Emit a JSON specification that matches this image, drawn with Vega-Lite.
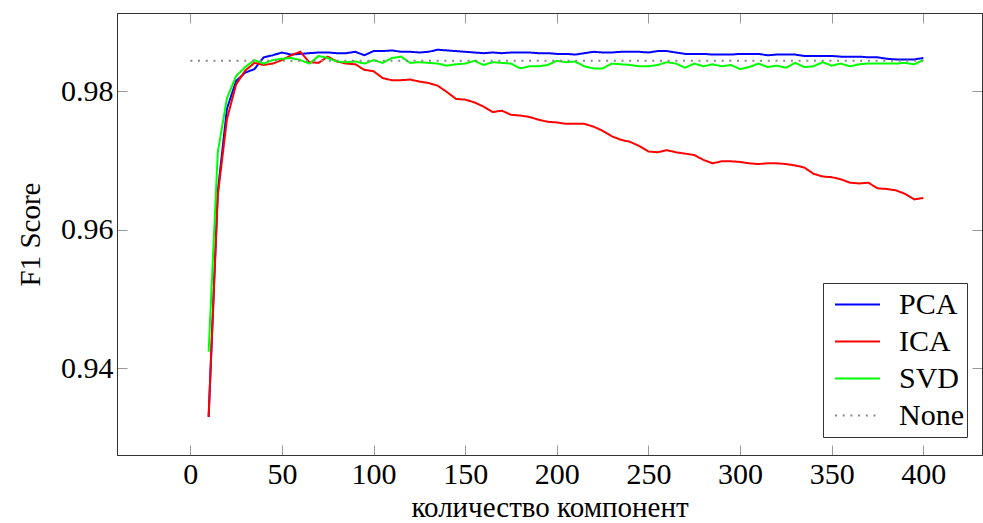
{
  "$schema": "https://vega.github.io/schema/vega-lite/v6.json",
  "autosize": {"type": "none"},
  "width": 865,
  "height": 442,
  "padding": {"left": 117, "top": 13, "right": 1, "bottom": 68},
  "background": "white",
  "config": {
    "view": {"stroke": "#333", "strokeWidth": 1},
    "font": "Liberation Serif",
    "axis": {"labelFont": "Liberation Serif", "titleFont": "Liberation Serif", "labelFontSize": 30, "titleFontSize": 29, "titleFontWeight": "normal", "labelColor": "black", "titleColor": "black", "grid": false, "domainColor": "#333", "tickColor": "#999", "tickSize": -10, "tickWidth": 1}
  },
  "datasets": {
    "scores": [
      {"x":10,"PCA":0.9330,"ICA":0.9330,"SVD":0.9424},
      {"x":15,"PCA":0.9655,"ICA":0.9650,"SVD":0.9712},
      {"x":20,"PCA":0.9775,"ICA":0.9760,"SVD":0.9790},
      {"x":25,"PCA":0.9815,"ICA":0.9810,"SVD":0.9822},
      {"x":30,"PCA":0.9827,"ICA":0.9830,"SVD":0.9835},
      {"x":35,"PCA":0.9832,"ICA":0.9841,"SVD":0.9845},
      {"x":40,"PCA":0.9849,"ICA":0.9838,"SVD":0.9840},
      {"x":45,"PCA":0.9852,"ICA":0.9840,"SVD":0.9845},
      {"x":50,"PCA":0.9856,"ICA":0.9845,"SVD":0.9847},
      {"x":55,"PCA":0.9853,"ICA":0.9852,"SVD":0.9848},
      {"x":60,"PCA":0.9854,"ICA":0.9857,"SVD":0.9845},
      {"x":65,"PCA":0.9855,"ICA":0.9842,"SVD":0.9840},
      {"x":70,"PCA":0.9856,"ICA":0.9841,"SVD":0.9851},
      {"x":75,"PCA":0.9856,"ICA":0.9850,"SVD":0.9848},
      {"x":80,"PCA":0.9855,"ICA":0.9843,"SVD":0.9843},
      {"x":85,"PCA":0.9855,"ICA":0.9840,"SVD":0.9842},
      {"x":90,"PCA":0.9857,"ICA":0.9839,"SVD":0.9843},
      {"x":95,"PCA":0.9852,"ICA":0.9831,"SVD":0.9840},
      {"x":100,"PCA":0.9858,"ICA":0.9829,"SVD":0.9845},
      {"x":105,"PCA":0.9858,"ICA":0.9819,"SVD":0.9841},
      {"x":110,"PCA":0.9859,"ICA":0.9816,"SVD":0.9848},
      {"x":115,"PCA":0.9857,"ICA":0.9816,"SVD":0.9850},
      {"x":120,"PCA":0.9857,"ICA":0.9817,"SVD":0.9841},
      {"x":125,"PCA":0.9856,"ICA":0.9814,"SVD":0.9842},
      {"x":130,"PCA":0.9857,"ICA":0.9812,"SVD":0.9841},
      {"x":135,"PCA":0.9860,"ICA":0.9808,"SVD":0.9840},
      {"x":140,"PCA":0.9859,"ICA":0.9799,"SVD":0.9837},
      {"x":145,"PCA":0.9858,"ICA":0.9789,"SVD":0.9839},
      {"x":150,"PCA":0.9857,"ICA":0.9788,"SVD":0.9840},
      {"x":155,"PCA":0.9856,"ICA":0.9784,"SVD":0.9844},
      {"x":160,"PCA":0.9855,"ICA":0.9778,"SVD":0.9838},
      {"x":165,"PCA":0.9856,"ICA":0.9770,"SVD":0.9842},
      {"x":170,"PCA":0.9855,"ICA":0.9772,"SVD":0.9841},
      {"x":175,"PCA":0.9856,"ICA":0.9766,"SVD":0.9840},
      {"x":180,"PCA":0.9856,"ICA":0.9765,"SVD":0.9833},
      {"x":185,"PCA":0.9856,"ICA":0.9763,"SVD":0.9836},
      {"x":190,"PCA":0.9855,"ICA":0.9759,"SVD":0.9836},
      {"x":195,"PCA":0.9855,"ICA":0.9756,"SVD":0.9838},
      {"x":200,"PCA":0.9854,"ICA":0.9755,"SVD":0.9844},
      {"x":205,"PCA":0.9854,"ICA":0.9753,"SVD":0.9842},
      {"x":210,"PCA":0.9853,"ICA":0.9753,"SVD":0.9843},
      {"x":215,"PCA":0.9855,"ICA":0.9753,"SVD":0.9836},
      {"x":220,"PCA":0.9857,"ICA":0.9749,"SVD":0.9833},
      {"x":225,"PCA":0.9856,"ICA":0.9743,"SVD":0.9833},
      {"x":230,"PCA":0.9856,"ICA":0.9735,"SVD":0.9840},
      {"x":235,"PCA":0.9857,"ICA":0.9730,"SVD":0.9839},
      {"x":240,"PCA":0.9857,"ICA":0.9727,"SVD":0.9838},
      {"x":245,"PCA":0.9857,"ICA":0.9721,"SVD":0.9836},
      {"x":250,"PCA":0.9856,"ICA":0.9713,"SVD":0.9836},
      {"x":255,"PCA":0.9858,"ICA":0.9712,"SVD":0.9838},
      {"x":260,"PCA":0.9858,"ICA":0.9715,"SVD":0.9842},
      {"x":265,"PCA":0.9856,"ICA":0.9712,"SVD":0.9840},
      {"x":270,"PCA":0.9854,"ICA":0.9710,"SVD":0.9834},
      {"x":275,"PCA":0.9854,"ICA":0.9708,"SVD":0.9840},
      {"x":280,"PCA":0.9854,"ICA":0.9701,"SVD":0.9836},
      {"x":285,"PCA":0.9853,"ICA":0.9696,"SVD":0.9839},
      {"x":290,"PCA":0.9853,"ICA":0.9699,"SVD":0.9836},
      {"x":295,"PCA":0.9853,"ICA":0.9699,"SVD":0.9838},
      {"x":300,"PCA":0.9854,"ICA":0.9698,"SVD":0.9832},
      {"x":305,"PCA":0.9854,"ICA":0.9696,"SVD":0.9835},
      {"x":310,"PCA":0.9854,"ICA":0.9695,"SVD":0.9840},
      {"x":315,"PCA":0.9852,"ICA":0.9696,"SVD":0.9835},
      {"x":320,"PCA":0.9853,"ICA":0.9696,"SVD":0.9837},
      {"x":325,"PCA":0.9853,"ICA":0.9695,"SVD":0.9834},
      {"x":330,"PCA":0.9853,"ICA":0.9693,"SVD":0.9841},
      {"x":335,"PCA":0.9851,"ICA":0.9690,"SVD":0.9835},
      {"x":340,"PCA":0.9851,"ICA":0.9681,"SVD":0.9836},
      {"x":345,"PCA":0.9851,"ICA":0.9677,"SVD":0.9842},
      {"x":350,"PCA":0.9851,"ICA":0.9676,"SVD":0.9837},
      {"x":355,"PCA":0.9850,"ICA":0.9673,"SVD":0.9840},
      {"x":360,"PCA":0.9850,"ICA":0.9668,"SVD":0.9836},
      {"x":365,"PCA":0.9850,"ICA":0.9667,"SVD":0.9839},
      {"x":370,"PCA":0.9849,"ICA":0.9668,"SVD":0.9840},
      {"x":375,"PCA":0.9849,"ICA":0.9660,"SVD":0.9840},
      {"x":380,"PCA":0.9847,"ICA":0.9659,"SVD":0.9840},
      {"x":385,"PCA":0.9846,"ICA":0.9657,"SVD":0.9840},
      {"x":390,"PCA":0.9846,"ICA":0.9652,"SVD":0.9841},
      {"x":395,"PCA":0.9846,"ICA":0.9644,"SVD":0.9839},
      {"x":400,"PCA":0.9848,"ICA":0.9646,"SVD":0.9845}
    ],
    "baseline": [
      {"x":0,"f1":0.9844,"method":"None"},
      {"x":400,"f1":0.9844,"method":"None"}
    ]
  },
  "encoding": {
    "x": {"field": "x", "type": "quantitative", "scale": {"domain": [-40, 432], "nice": false, "zero": false}},
    "y": {"field": "f1", "type": "quantitative", "scale": {"domain": [0.9275, 0.9913], "nice": false, "zero": false}},
    "color": {"field": "method", "type": "nominal", "scale": {"domain": ["PCA","ICA","SVD","None"], "range": ["#0000ff","#ff0000","#00ff00","#888888"]},
      "legend": {"orient": "none", "legendX": 706, "legendY": 270, "title": null, "fillColor": "white", "strokeColor": "#333", "padding": 3, "labelFont": "Liberation Serif", "labelFontSize": 30, "labelColor": "black", "symbolType": "stroke", "symbolSize": 2025, "symbolStrokeWidth": 2, "symbolOffset": 8, "clipHeight": 37, "rowPadding": 0, "labelOffset": 18}},
    "strokeDash": {"field": "method", "type": "nominal", "scale": {"domain": ["PCA","ICA","SVD","None"], "range": [[1,0],[1,0],[1,0],[2,5.7]]},
      "legend": {"orient": "none", "legendX": 706, "legendY": 270, "title": null, "fillColor": "white", "strokeColor": "#333", "padding": 3, "labelFont": "Liberation Serif", "labelFontSize": 30, "labelColor": "black", "symbolType": "stroke", "symbolSize": 2025, "symbolStrokeWidth": 2, "symbolOffset": 8, "clipHeight": 37, "rowPadding": 0, "labelOffset": 18}}
  },
  "layer": [
    {
      "data": {"name": "scores"},
      "transform": [{"fold": ["PCA","ICA","SVD"], "as": ["method","f1"]}],
      "mark": {"type": "line", "strokeWidth": 2},
      "encoding": {
        "x": {"field": "x", "type": "quantitative", "axis": {"orient": "bottom", "values": [0,50,100,150,200,250,300,350,400], "title": "количество компонент", "labelPadding": 14, "titlePadding": 4}},
        "y": {"field": "f1", "type": "quantitative", "axis": {"orient": "left", "values": [0.94,0.96,0.98], "format": ".2f", "title": "F1 Score", "labelPadding": 14, "titlePadding": 15}}
      }
    },
    {
      "data": {"name": "baseline"},
      "mark": {"type": "line", "strokeWidth": 2},
      "encoding": {
        "x": {"field": "x", "type": "quantitative", "axis": {"orient": "top", "values": [0,50,100,150,200,250,300,350,400], "labels": false, "title": null}},
        "y": {"field": "f1", "type": "quantitative", "axis": {"orient": "right", "values": [0.94,0.96,0.98], "labels": false, "title": null}}
      }
    }
  ],
  "resolve": {"axis": {"x": "independent", "y": "independent"}}
}
